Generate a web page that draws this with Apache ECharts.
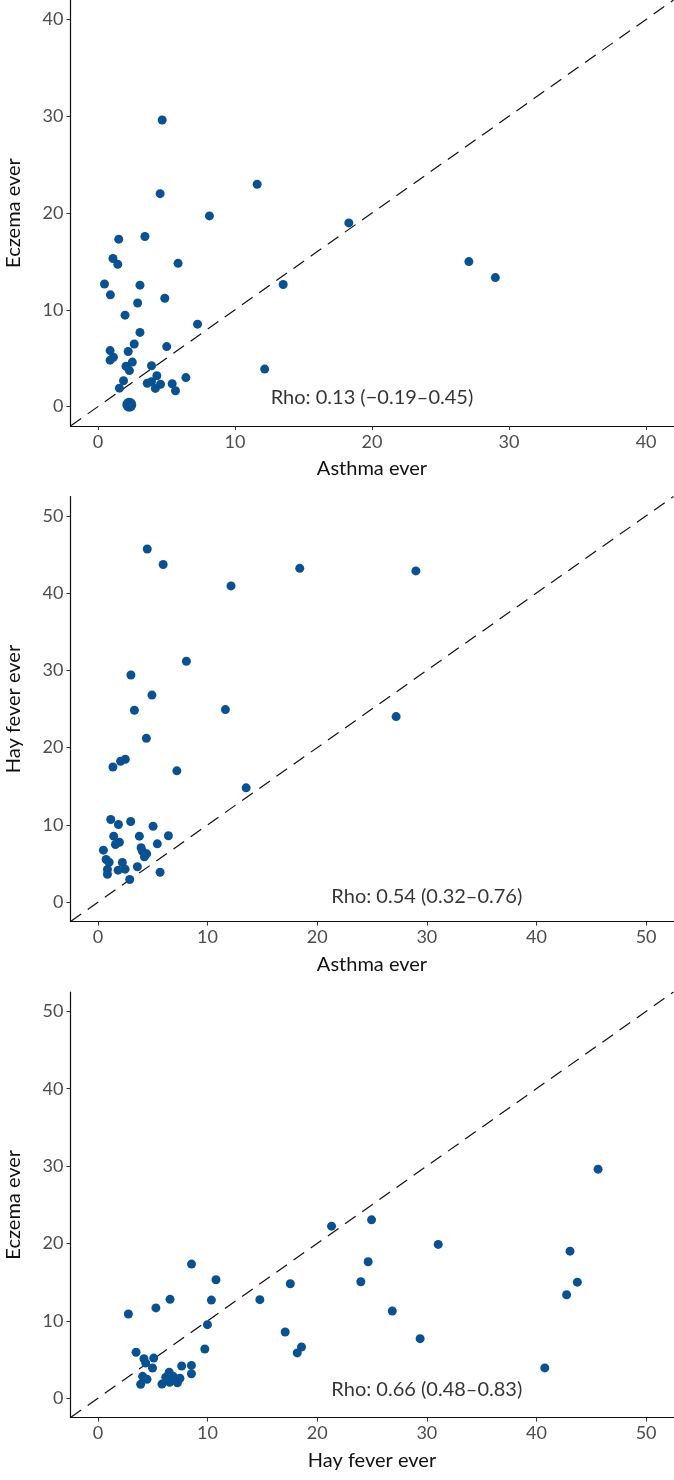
<!DOCTYPE html>
<html><head><meta charset="utf-8">
<script src="https://cdn.jsdelivr.net/npm/echarts@6/dist/echarts.min.js"></script>
<style>html,body{margin:0;padding:0;background:#fff}#c{width:674px;height:1480px}</style>
</head><body><div id="c"></div><script>
// ---- Panel 1: Asthma ever (x) vs Eczema ever (y)
const p1Asthma = [4.69,11.62,4.54,8.14,18.31,1.52,3.43,1.10,1.45,5.85,27.07,29.0,0.48,3.07,13.52,0.91,4.88,2.90,1.98,7.27,3.07,2.65,5.02,0.89,2.21,1.13,0.89,2.51,2.05,3.91,2.30,12.17,4.30,6.42,1.87,3.60,3.91,4.57,5.42,1.57,4.19,5.66];
const p1Eczema = [29.6,22.97,22.0,19.7,18.98,17.3,17.57,15.3,14.7,14.8,14.98,13.33,12.67,12.55,12.61,11.55,11.2,10.7,9.45,8.52,7.67,6.47,6.2,5.79,5.7,5.1,4.8,4.6,4.17,4.22,3.72,3.88,3.19,3.0,2.67,2.42,2.58,2.31,2.36,1.91,1.88,1.64];
const p1LargeAsthma = [2.29];
const p1LargeEczema = [0.19];
// ---- Panel 2: Asthma ever (x) vs Hay fever ever (y)
const p2Asthma = [4.50,5.95,18.41,29.0,12.14,8.07,3.01,4.93,3.33,11.63,27.2,4.42,2.50,2.07,1.37,7.20,13.52,1.17,1.87,2.99,5.03,1.44,3.78,6.43,1.96,1.60,5.42,3.94,4.06,4.45,4.24,0.50,0.75,1.02,0.87,0.87,1.84,2.23,2.48,3.60,2.90,5.67];
const p2Hay = [45.7,43.7,43.2,42.87,40.93,31.18,29.4,26.8,24.84,24.92,24.02,21.2,18.5,18.24,17.5,17.0,14.8,10.7,10.05,10.44,9.83,8.54,8.54,8.59,7.76,7.46,7.55,7.04,6.6,6.26,5.87,6.73,5.52,5.17,4.23,3.62,4.14,5.14,4.27,4.58,2.94,3.88];
// ---- Panel 3: Hay fever ever (x) vs Eczema ever (y)
const p3Hay = [45.62,24.96,21.31,31.04,43.06,24.65,8.54,10.77,23.98,43.73,17.55,42.75,6.58,10.35,14.77,5.29,2.78,26.85,9.99,17.08,29.39,9.75,18.57,18.18,40.76,3.48,4.20,4.36,5.09,4.98,7.64,8.53,8.53,4.08,4.48,3.90,5.84,6.50,6.19,6.85,6.54,7.25,7.48];
const p3Eczema = [29.6,23.05,22.23,19.87,19.0,17.63,17.33,15.31,15.05,14.99,14.79,13.37,12.77,12.68,12.73,11.67,10.88,11.27,9.5,8.55,7.69,6.36,6.62,5.85,3.91,5.94,5.1,4.53,5.18,3.9,4.16,4.23,3.15,2.82,2.43,1.8,1.82,3.35,2.71,2.84,2.06,1.98,2.57];
// ---- Axes
const xNames = ['Asthma ever','Asthma ever','Hay fever ever'];
const yNames = ['Eczema ever','Hay fever ever','Eczema ever'];
const axisLimits = [[-2,42],[-2.5,52.5],[-2.5,52.5]];
const tickValues = [[0,10,20,30,40],[0,10,20,30,40,50],[0,10,20,30,40,50]];
// ---- Correlation annotations
const rhoLabels = ['Rho: 0.13 (\u22120.19\u20130.45)','Rho: 0.54 (0.32\u20130.76)','Rho: 0.66 (0.48\u20130.83)'];
const rhoAtX = [20,30,30];
const rhoAtY = [0.9,0.75,1.15];

const zip = (a,b) => a.map((v,i)=>[v,b[i]]);
const panels = [
  {x:p1Asthma, y:p1Eczema, lx:p1LargeAsthma, ly:p1LargeEczema},
  {x:p2Asthma, y:p2Hay},
  {x:p3Hay, y:p3Eczema}
];
const FONT = 'Lato';
const DOT = '#0a5191';
const grids = [
  {left:70.5, top:0, width:603, height:426, outerBoundsMode:'none', containLabel:false},
  {left:70.5, top:496.5, width:603, height:425, outerBoundsMode:'none', containLabel:false},
  {left:70.5, top:992, width:603, height:425.5, outerBoundsMode:'none', containLabel:false}
];
const xAxis = [], yAxis = [], series = [];
panels.forEach((p,i)=>{
  const lim = axisLimits[i];
  const common = {
    type:'value', gridIndex:i, min:lim[0], max:lim[1],
    splitLine:{show:false},
    axisLine:{show:true, onZero:false, lineStyle:{color:'#111', width:1.2}},
    axisTick:{show:true, customValues:tickValues[i], length:4, lineStyle:{color:'#333', width:1}},
    axisLabel:{customValues:tickValues[i], color:'#4d4d4d', fontFamily:FONT, fontSize:18},
    nameLocation:'middle',
    nameTextStyle:{color:'#111', fontFamily:FONT, fontSize:20}
  };
  xAxis.push(Object.assign({}, common, {position:'bottom', name:xNames[i], nameGap:33,
    axisLabel:Object.assign({}, common.axisLabel, {margin:7})}));
  yAxis.push(Object.assign({}, common, {position:'left', name:yNames[i], nameGap:47, nameRotate:90,
    axisLabel:Object.assign({}, common.axisLabel, {margin:7})}));
  series.push({type:'line', xAxisIndex:i, yAxisIndex:i, data:[[lim[0],lim[0]],[lim[1],lim[1]]],
    symbol:'none', silent:true, z:1,
    lineStyle:{color:'#111', width:1.2, type:[13,8]}});
  series.push({type:'scatter', xAxisIndex:i, yAxisIndex:i, data:zip(p.x,p.y),
    symbolSize:9, itemStyle:{color:DOT, opacity:1}, z:3});
  if (p.lx) series.push({type:'scatter', xAxisIndex:i, yAxisIndex:i, data:zip(p.lx,p.ly),
    symbolSize:14, itemStyle:{color:DOT, opacity:1}, z:3});
  series.push({type:'scatter', xAxisIndex:i, yAxisIndex:i, data:[[rhoAtX[i], rhoAtY[i]]],
    symbolSize:1, itemStyle:{color:'rgba(0,0,0,0)'}, z:4, silent:true,
    label:{show:true, position:'inside', formatter:rhoLabels[i], color:'#000', fontFamily:FONT, fontSize:20}});
});
const chart = echarts.init(document.getElementById('c'), null, {renderer:'canvas'});
chart.setOption({animation:false, backgroundColor:'#fff', grid:grids, xAxis, yAxis, series});
</script></body></html>
